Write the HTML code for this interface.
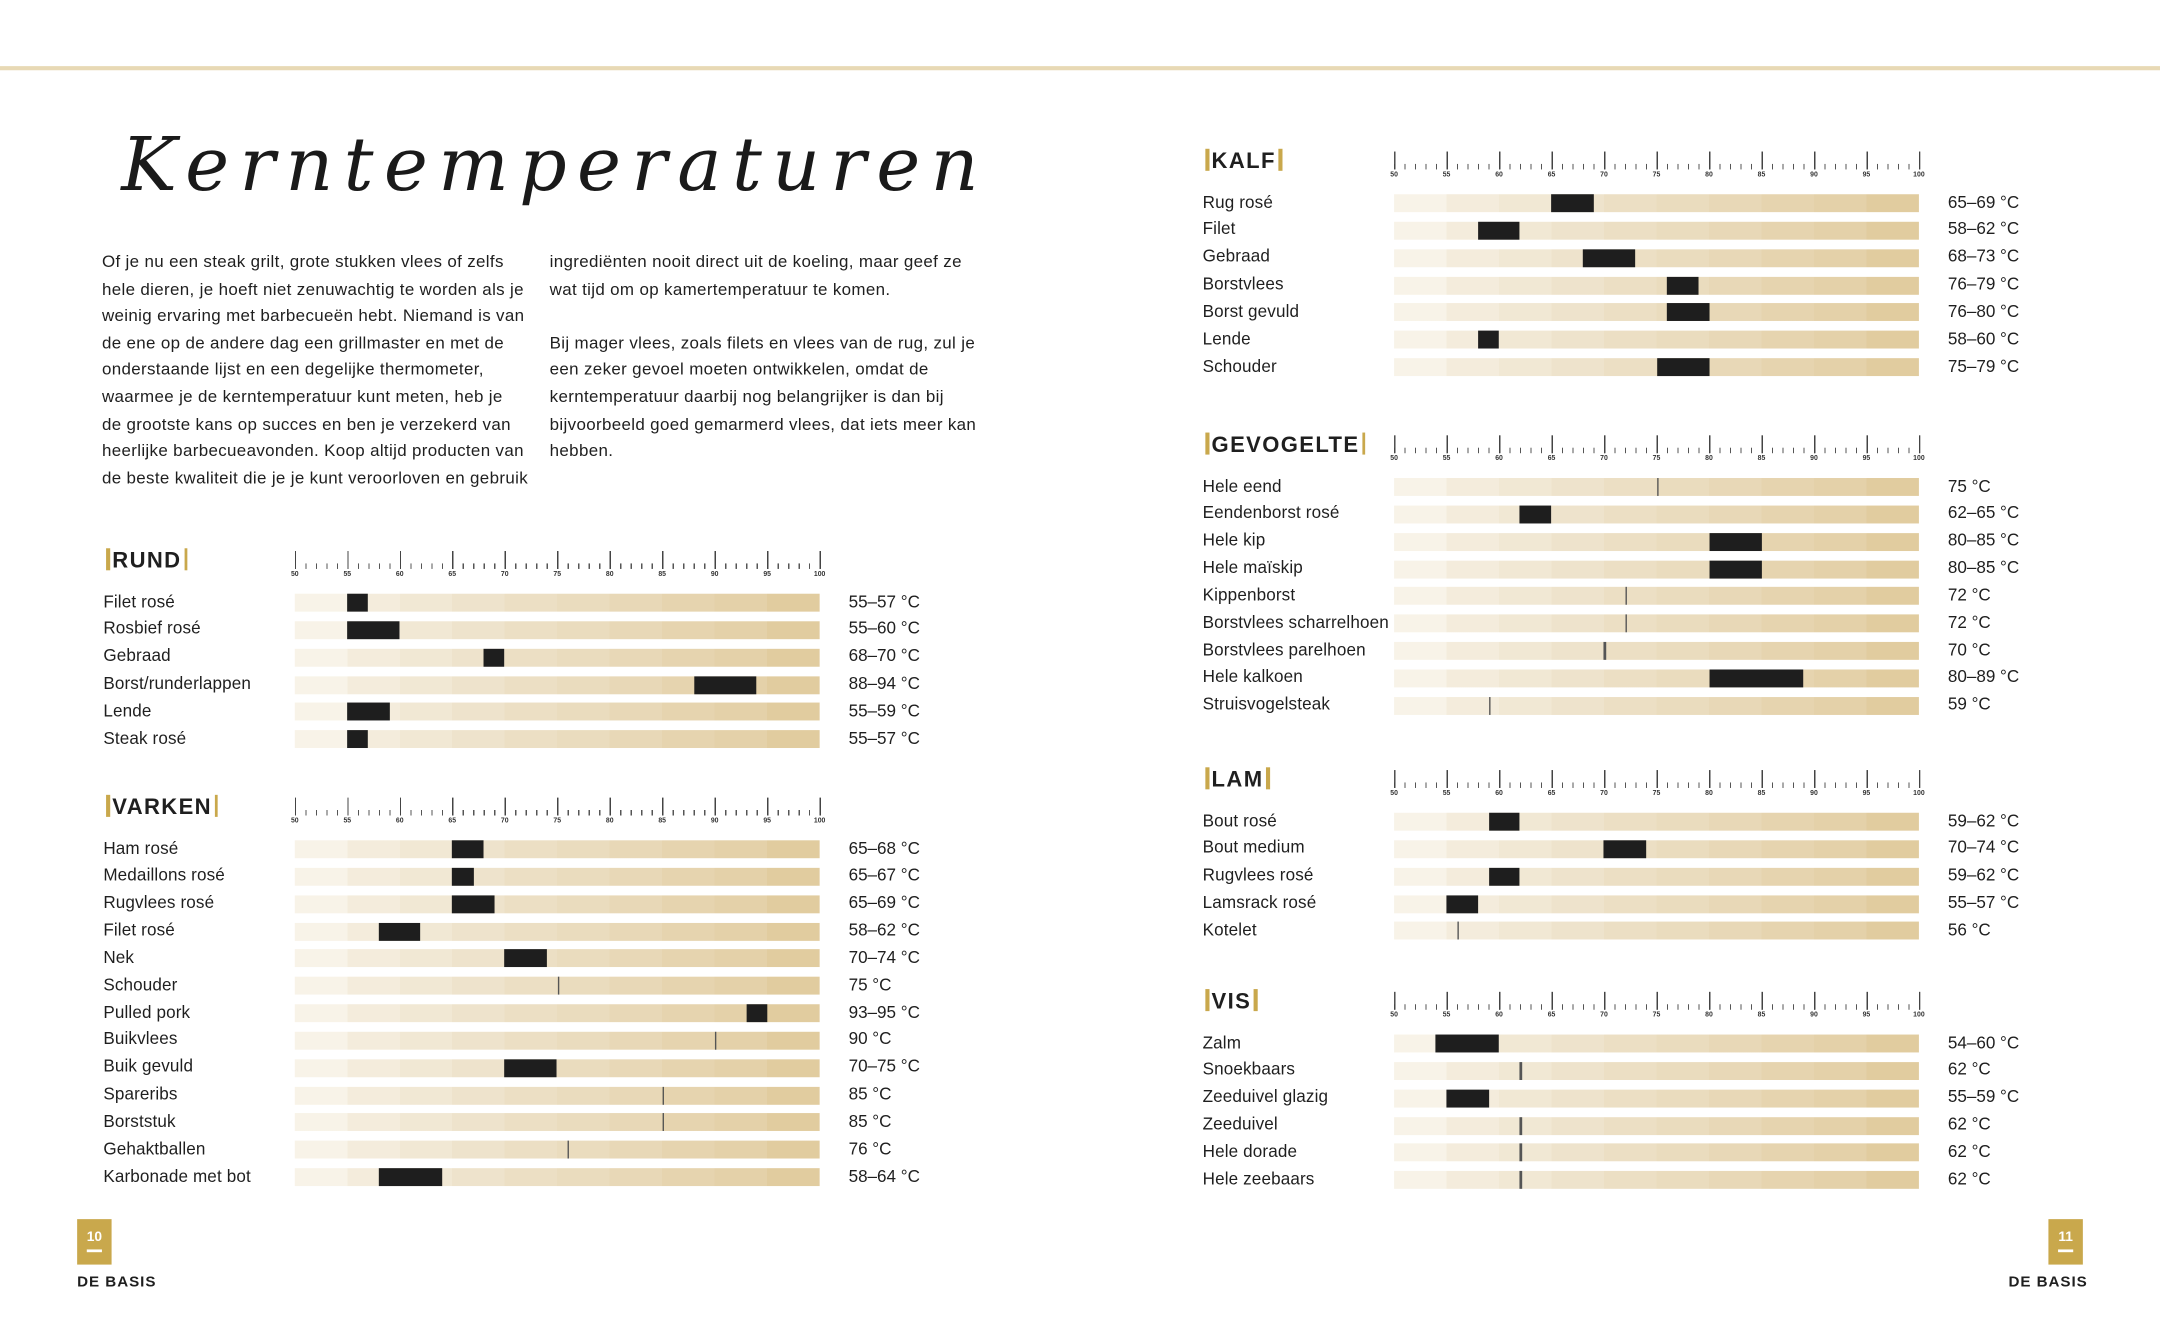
<!DOCTYPE html>
<html><head><meta charset="utf-8">
<style>
html,body{margin:0;padding:0;background:#fff;}
body{width:2160px;height:1334px;overflow:hidden;position:relative;}
#pg{position:absolute;left:0;top:0;width:1568px;height:969px;transform:scale(1.37755);transform-origin:0 0;font-family:"Liberation Sans",sans-serif;color:#1f1f1f;}
.topline{position:absolute;left:0;top:47.5px;width:1568px;height:3px;background:#e8d9b5;}
.title{position:absolute;left:88px;top:88px;font-family:"DejaVu Serif",serif;font-style:italic;font-size:54px;letter-spacing:7.5px;color:#1a1a1a;}
.txt{position:absolute;top:181px;font-size:12.3px;line-height:19.6px;white-space:nowrap;letter-spacing:0.25px;}
.sec{position:absolute;width:620px;}
.hd{position:absolute;left:0;top:0;height:20px;line-height:20px;font-weight:bold;font-size:16px;letter-spacing:1px;}
.hd b{display:inline-block;width:2.5px;height:16px;background:#c9a84c;vertical-align:-2px;margin:0 2px;}
.rul{position:absolute;left:139px;top:2px;width:382px;height:24px;}
.rul .mn{position:absolute;left:0;top:9px;width:382px;height:4px;background:repeating-linear-gradient(90deg,#555 0,#555 0.8px,transparent 0.8px,transparent 7.62px);}
.rul .mj{position:absolute;left:0;top:0;width:382px;height:13px;background:repeating-linear-gradient(90deg,#444 0,#444 1px,transparent 1px,transparent 38.1px);}
.rul span{position:absolute;top:14px;font-size:5px;font-weight:bold;width:20px;margin-left:-10px;text-align:center;color:#333;}
.rows{position:absolute;left:0;top:29.5px;width:620px;}
.r{position:relative;height:19.85px;font-size:12.4px;line-height:19.85px;}
.r .l{position:absolute;left:0;top:0;white-space:nowrap;letter-spacing:0.1px;}
.r .v{position:absolute;left:541px;top:0;white-space:nowrap;}
.r .bar{position:absolute;left:139px;top:3.5px;width:381px;height:13px;background:linear-gradient(90deg,#f8f3e8 0,#f8f3e8 10%,#f4ecdc 10%,#f4ecdc 20%,#f1e8d4 20%,#f1e8d4 30%,#eee3cc 30%,#eee3cc 40%,#ecdfc4 40%,#ecdfc4 50%,#eadcbe 50%,#eadcbe 60%,#e8d8b7 60%,#e8d8b7 70%,#e6d4af 70%,#e6d4af 80%,#e4d1a9 80%,#e4d1a9 90%,#e1cc9f 90%,#e1cc9f 100%);}
.blk{position:absolute;top:0;height:13px;background:#1e1e1e;left:calc((var(--a) - 50)*7.62px);width:calc((var(--b) - var(--a))*7.62px);}
.ln{position:absolute;top:0;height:13px;width:1.3px;background:#555;left:calc((var(--a) - 50)*7.62px);}
.pn{position:absolute;top:885px;width:25px;height:33px;background:#c9a84c;color:#fff;font-weight:bold;font-size:10px;text-align:center;line-height:28px;}
.pn i{position:absolute;left:7px;top:22px;width:11px;height:1.5px;background:#fff;}
.db{position:absolute;top:925px;font-weight:bold;font-size:11px;letter-spacing:0.7px;}
</style></head><body><div id="pg">
<div class="topline"></div>
<div class="title">Kerntemperaturen</div>
<div class="txt" style="left:74px">Of je nu een steak grilt, grote stukken vlees of zelfs<br>hele dieren, je hoeft niet zenuwachtig te worden als je<br>weinig ervaring met barbecueën hebt. Niemand is van<br>de ene op de andere dag een grillmaster en met de<br>onderstaande lijst en een degelijke thermometer,<br>waarmee je de kerntemperatuur kunt meten, heb je<br>de grootste kans op succes en ben je verzekerd van<br>heerlijke barbecueavonden. Koop altijd producten van<br>de beste kwaliteit die je je kunt veroorloven en gebruik</div>
<div class="txt" style="left:399px">ingrediënten nooit direct uit de koeling, maar geef ze<br>wat tijd om op kamertemperatuur te komen.<br><br>Bij mager vlees, zoals filets en vlees van de rug, zul je<br>een zeker gevoel moeten ontwikkelen, omdat de<br>kerntemperatuur daarbij nog belangrijker is dan bij<br>bijvoorbeeld goed gemarmerd vlees, dat iets meer kan<br>hebben.</div>

<!-- RUND -->
<div class="sec" style="left:75px;top:398px">
<div class="hd"><b></b>RUND<b></b></div>
<div class="rul"><div class="mn"></div><div class="mj"></div><span style="left:0">50</span><span style="left:38.1px">55</span><span style="left:76.2px">60</span><span style="left:114.3px">65</span><span style="left:152.4px">70</span><span style="left:190.5px">75</span><span style="left:228.6px">80</span><span style="left:266.7px">85</span><span style="left:304.8px">90</span><span style="left:342.9px">95</span><span style="left:381px">100</span></div>
<div class="rows">
<div class="r"><span class="l">Filet rosé</span><div class="bar"><div class="blk" style="--a:55;--b:57"></div></div><span class="v">55–57 °C</span></div>
<div class="r"><span class="l">Rosbief rosé</span><div class="bar"><div class="blk" style="--a:55;--b:60"></div></div><span class="v">55–60 °C</span></div>
<div class="r"><span class="l">Gebraad</span><div class="bar"><div class="blk" style="--a:68;--b:70"></div></div><span class="v">68–70 °C</span></div>
<div class="r"><span class="l">Borst/runderlappen</span><div class="bar"><div class="blk" style="--a:88;--b:94"></div></div><span class="v">88–94 °C</span></div>
<div class="r"><span class="l">Lende</span><div class="bar"><div class="blk" style="--a:55;--b:59"></div></div><span class="v">55–59 °C</span></div>
<div class="r"><span class="l">Steak rosé</span><div class="bar"><div class="blk" style="--a:55;--b:57"></div></div><span class="v">55–57 °C</span></div>
</div></div>

<!-- VARKEN -->
<div class="sec" style="left:75px;top:577px">
<div class="hd"><b></b>VARKEN<b></b></div>
<div class="rul"><div class="mn"></div><div class="mj"></div><span style="left:0">50</span><span style="left:38.1px">55</span><span style="left:76.2px">60</span><span style="left:114.3px">65</span><span style="left:152.4px">70</span><span style="left:190.5px">75</span><span style="left:228.6px">80</span><span style="left:266.7px">85</span><span style="left:304.8px">90</span><span style="left:342.9px">95</span><span style="left:381px">100</span></div>
<div class="rows">
<div class="r"><span class="l">Ham rosé</span><div class="bar"><div class="blk" style="--a:65;--b:68"></div></div><span class="v">65–68 °C</span></div>
<div class="r"><span class="l">Medaillons rosé</span><div class="bar"><div class="blk" style="--a:65;--b:67"></div></div><span class="v">65–67 °C</span></div>
<div class="r"><span class="l">Rugvlees rosé</span><div class="bar"><div class="blk" style="--a:65;--b:69"></div></div><span class="v">65–69 °C</span></div>
<div class="r"><span class="l">Filet rosé</span><div class="bar"><div class="blk" style="--a:58;--b:62"></div></div><span class="v">58–62 °C</span></div>
<div class="r"><span class="l">Nek</span><div class="bar"><div class="blk" style="--a:70;--b:74"></div></div><span class="v">70–74 °C</span></div>
<div class="r"><span class="l">Schouder</span><div class="bar"><div class="ln" style="--a:75"></div></div><span class="v">75 °C</span></div>
<div class="r"><span class="l">Pulled pork</span><div class="bar"><div class="blk" style="--a:93;--b:95"></div></div><span class="v">93–95 °C</span></div>
<div class="r"><span class="l">Buikvlees</span><div class="bar"><div class="ln" style="--a:90"></div></div><span class="v">90 °C</span></div>
<div class="r"><span class="l">Buik gevuld</span><div class="bar"><div class="blk" style="--a:70;--b:75"></div></div><span class="v">70–75 °C</span></div>
<div class="r"><span class="l">Spareribs</span><div class="bar"><div class="ln" style="--a:85"></div></div><span class="v">85 °C</span></div>
<div class="r"><span class="l">Borststuk</span><div class="bar"><div class="ln" style="--a:85"></div></div><span class="v">85 °C</span></div>
<div class="r"><span class="l">Gehaktballen</span><div class="bar"><div class="ln" style="--a:76"></div></div><span class="v">76 °C</span></div>
<div class="r"><span class="l">Karbonade met bot</span><div class="bar"><div class="blk" style="--a:58;--b:64"></div></div><span class="v">58–64 °C</span></div>
</div></div>

<!-- KALF -->
<div class="sec" style="left:873px;top:108px">
<div class="hd"><b></b>KALF<b></b></div>
<div class="rul"><div class="mn"></div><div class="mj"></div><span style="left:0">50</span><span style="left:38.1px">55</span><span style="left:76.2px">60</span><span style="left:114.3px">65</span><span style="left:152.4px">70</span><span style="left:190.5px">75</span><span style="left:228.6px">80</span><span style="left:266.7px">85</span><span style="left:304.8px">90</span><span style="left:342.9px">95</span><span style="left:381px">100</span></div>
<div class="rows">
<div class="r"><span class="l">Rug rosé</span><div class="bar"><div class="blk" style="--a:65;--b:69"></div></div><span class="v">65–69 °C</span></div>
<div class="r"><span class="l">Filet</span><div class="bar"><div class="blk" style="--a:58;--b:62"></div></div><span class="v">58–62 °C</span></div>
<div class="r"><span class="l">Gebraad</span><div class="bar"><div class="blk" style="--a:68;--b:73"></div></div><span class="v">68–73 °C</span></div>
<div class="r"><span class="l">Borstvlees</span><div class="bar"><div class="blk" style="--a:76;--b:79"></div></div><span class="v">76–79 °C</span></div>
<div class="r"><span class="l">Borst gevuld</span><div class="bar"><div class="blk" style="--a:76;--b:80"></div></div><span class="v">76–80 °C</span></div>
<div class="r"><span class="l">Lende</span><div class="bar"><div class="blk" style="--a:58;--b:60"></div></div><span class="v">58–60 °C</span></div>
<div class="r"><span class="l">Schouder</span><div class="bar"><div class="blk" style="--a:75;--b:80"></div></div><span class="v">75–79 °C</span></div>
</div></div>

<!-- GEVOGELTE -->
<div class="sec" style="left:873px;top:314px">
<div class="hd"><b></b>GEVOGELTE<b></b></div>
<div class="rul"><div class="mn"></div><div class="mj"></div><span style="left:0">50</span><span style="left:38.1px">55</span><span style="left:76.2px">60</span><span style="left:114.3px">65</span><span style="left:152.4px">70</span><span style="left:190.5px">75</span><span style="left:228.6px">80</span><span style="left:266.7px">85</span><span style="left:304.8px">90</span><span style="left:342.9px">95</span><span style="left:381px">100</span></div>
<div class="rows">
<div class="r"><span class="l">Hele eend</span><div class="bar"><div class="ln" style="--a:75"></div></div><span class="v">75 °C</span></div>
<div class="r"><span class="l">Eendenborst rosé</span><div class="bar"><div class="blk" style="--a:62;--b:65"></div></div><span class="v">62–65 °C</span></div>
<div class="r"><span class="l">Hele kip</span><div class="bar"><div class="blk" style="--a:80;--b:85"></div></div><span class="v">80–85 °C</span></div>
<div class="r"><span class="l">Hele maïskip</span><div class="bar"><div class="blk" style="--a:80;--b:85"></div></div><span class="v">80–85 °C</span></div>
<div class="r"><span class="l">Kippenborst</span><div class="bar"><div class="ln" style="--a:72"></div></div><span class="v">72 °C</span></div>
<div class="r"><span class="l">Borstvlees scharrelhoen</span><div class="bar"><div class="ln" style="--a:72"></div></div><span class="v">72 °C</span></div>
<div class="r"><span class="l">Borstvlees parelhoen</span><div class="bar"><div class="ln" style="--a:70"></div></div><span class="v">70 °C</span></div>
<div class="r"><span class="l">Hele kalkoen</span><div class="bar"><div class="blk" style="--a:80;--b:89"></div></div><span class="v">80–89 °C</span></div>
<div class="r"><span class="l">Struisvogelsteak</span><div class="bar"><div class="ln" style="--a:59"></div></div><span class="v">59 °C</span></div>
</div></div>

<!-- LAM -->
<div class="sec" style="left:873px;top:557px">
<div class="hd"><b></b>LAM<b></b></div>
<div class="rul"><div class="mn"></div><div class="mj"></div><span style="left:0">50</span><span style="left:38.1px">55</span><span style="left:76.2px">60</span><span style="left:114.3px">65</span><span style="left:152.4px">70</span><span style="left:190.5px">75</span><span style="left:228.6px">80</span><span style="left:266.7px">85</span><span style="left:304.8px">90</span><span style="left:342.9px">95</span><span style="left:381px">100</span></div>
<div class="rows">
<div class="r"><span class="l">Bout rosé</span><div class="bar"><div class="blk" style="--a:59;--b:62"></div></div><span class="v">59–62 °C</span></div>
<div class="r"><span class="l">Bout medium</span><div class="bar"><div class="blk" style="--a:70;--b:74"></div></div><span class="v">70–74 °C</span></div>
<div class="r"><span class="l">Rugvlees rosé</span><div class="bar"><div class="blk" style="--a:59;--b:62"></div></div><span class="v">59–62 °C</span></div>
<div class="r"><span class="l">Lamsrack rosé</span><div class="bar"><div class="blk" style="--a:55;--b:58"></div></div><span class="v">55–57 °C</span></div>
<div class="r"><span class="l">Kotelet</span><div class="bar"><div class="ln" style="--a:56"></div></div><span class="v">56 °C</span></div>
</div></div>

<!-- VIS -->
<div class="sec" style="left:873px;top:718px">
<div class="hd"><b></b>VIS<b></b></div>
<div class="rul"><div class="mn"></div><div class="mj"></div><span style="left:0">50</span><span style="left:38.1px">55</span><span style="left:76.2px">60</span><span style="left:114.3px">65</span><span style="left:152.4px">70</span><span style="left:190.5px">75</span><span style="left:228.6px">80</span><span style="left:266.7px">85</span><span style="left:304.8px">90</span><span style="left:342.9px">95</span><span style="left:381px">100</span></div>
<div class="rows">
<div class="r"><span class="l">Zalm</span><div class="bar"><div class="blk" style="--a:54;--b:60"></div></div><span class="v">54–60 °C</span></div>
<div class="r"><span class="l">Snoekbaars</span><div class="bar"><div class="ln" style="--a:62"></div></div><span class="v">62 °C</span></div>
<div class="r"><span class="l">Zeeduivel glazig</span><div class="bar"><div class="blk" style="--a:55;--b:59"></div></div><span class="v">55–59 °C</span></div>
<div class="r"><span class="l">Zeeduivel</span><div class="bar"><div class="ln" style="--a:62"></div></div><span class="v">62 °C</span></div>
<div class="r"><span class="l">Hele dorade</span><div class="bar"><div class="ln" style="--a:62"></div></div><span class="v">62 °C</span></div>
<div class="r"><span class="l">Hele zeebaars</span><div class="bar"><div class="ln" style="--a:62"></div></div><span class="v">62 °C</span></div>
</div></div>

<div class="pn" style="left:56px">10<i></i></div>
<div class="db" style="left:56px">DE BASIS</div>
<div class="pn" style="left:1487px">11<i></i></div>
<div class="db" style="left:1458px">DE BASIS</div>
</div></body></html>
